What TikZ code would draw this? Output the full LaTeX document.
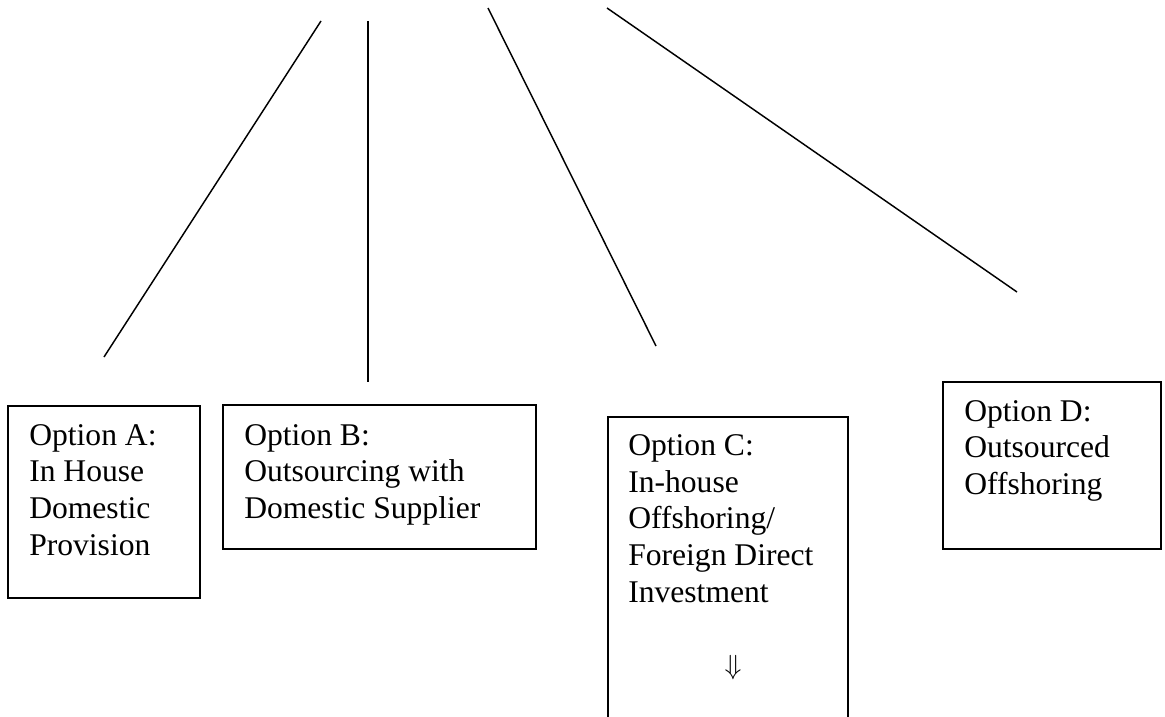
\documentclass[tikz,border=0pt]{standalone}
\usepackage{fontspec}
\setmainfont{Liberation Serif}
\begin{document}
\begin{tikzpicture}[x=0.75pt,y=-0.75pt,
  box/.style={draw,line width=1.1pt,inner sep=0pt},
  lbl/.style={anchor=base west,align=left,inner sep=0pt,font=\fontsize{23.7}{27.5}\selectfont},
  con/.style={line width=1.1pt}]
\useasboundingbox (0,0) rectangle (1165,717);
% boxes
\draw[box] (8,406) rectangle (200,598);
\draw[box] (223,405) rectangle (536,549);
\draw[box] (608,417) rectangle (848,730);
\draw[box] (943,382) rectangle (1161,549);
% labels (anchor = baseline of the last line)
\node[lbl] (ta) at (29,555) {Option A:\\In House\\Domestic\\Provision};
\node[lbl] (tb) at (244,518.4) {Option B:\\Outsourcing with\\Domestic Supplier};
\node[lbl] (tc) at (628,602) {Option C:\\In-house\\Offshoring/\\Foreign Direct\\Investment};
\node[lbl] (td) at (964,494.4) {Option D:\\Outsourced\\Offshoring};
\node[inner sep=0pt,font=\fontsize{20.8}{25}\selectfont] (arr) at (733,668) {$\Downarrow$};
% connector ends
\coordinate (a1) at (321,21); \coordinate (a2) at (104,357);
\coordinate (b1) at (368,21); \coordinate (b2) at (368,382);
\coordinate (c1) at (488,8);  \coordinate (c2) at (656,346);
\coordinate (d1) at (607,8);  \coordinate (d2) at (1017,292);
\draw[con] (a1) -- (a2);
\draw[con] (b1) -- (b2);
\draw[con] (c1) -- (c2);
\draw[con] (d1) -- (d2);
\end{tikzpicture}
\end{document}
